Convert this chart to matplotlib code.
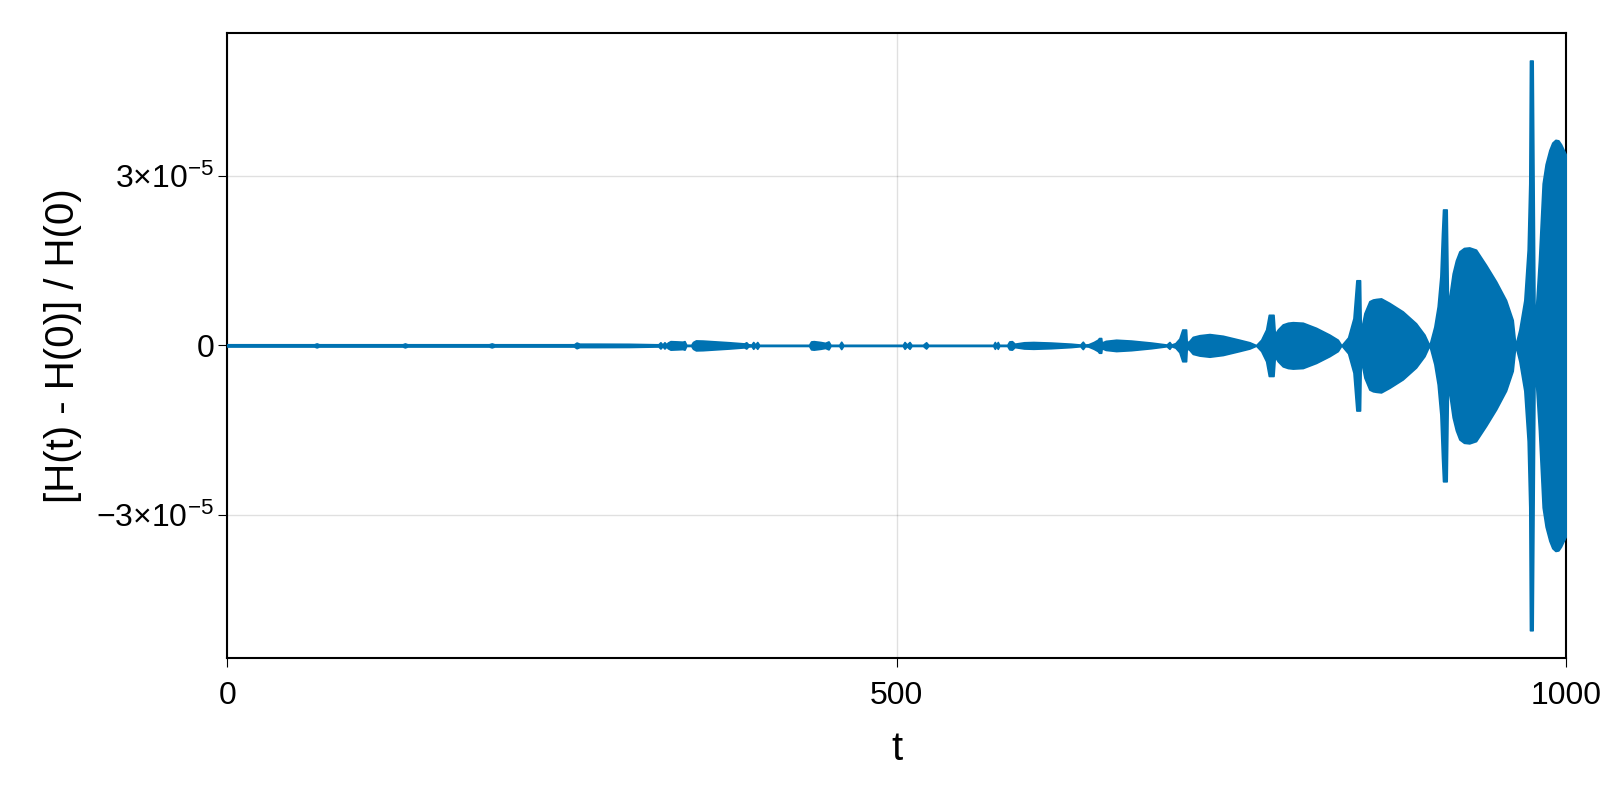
import numpy as np
import matplotlib
matplotlib.use('Agg')
import matplotlib.pyplot as plt

# Envelope of the relative energy error (units of 1e-5)
t_knots = [
    0, 65, 66.8, 68.5, 131, 132.7, 134.5, 195.5, 197.5, 199.5,
    259, 260.9, 263, 275, 300, 320,
    322, 323.5, 325, 326.5, 328,
    329, 331, 336, 340, 341.5, 342.8,
    346.5, 347.8, 350, 355, 365, 375, 386, 387.6, 389,
    391.5, 392.8, 394.3, 395.8, 397.2,
    434.5, 436, 438, 443, 446.5, 449, 450.5,
    457, 458.5, 460,
    504.5, 505.8, 507.5, 509.5, 511,
    519.5, 521.9, 523.5,
    572, 573.2, 574.3, 575.4, 576.5,
    582.5, 584, 586, 588, 595, 602, 615, 630, 637,
    638.9, 640.5,
    643, 647, 650, 651, 652.6, 653, 656, 663.8, 675, 690, 701.5,
    703.6, 705,
    708, 711, 713.2, 716, 716.5,
    718.5, 721, 726, 733.5, 743.5, 755.8, 763.4, 768.3,
    772.1, 775.8, 777.8, 781.3, 782.3,
    784.5, 788.2, 792, 795.7, 803.2, 813.1, 823.1, 829.3, 832,
    837, 841, 843.2, 845.9, 846.5,
    849.2, 852.9, 855.5, 857.9, 861.6, 867.8, 877.8, 887.7, 894, 897.7,
    901.4, 903.9, 905.9, 907.1, 907.9, 910.6, 911.6,
    915.1, 917.5, 920.1, 923.5, 927.5, 932.5, 940, 947.5, 954.9, 959.9, 961.9,
    964.9, 968.6, 971.1, 972.3, 972.8, 974.8, 976.3,
    979.5, 982.3, 984.5, 987.3, 989.5, 991.8, 994, 996, 998, 1000,
]
amp_knots = [
    0.02, 0.02, 0.035, 0.02, 0.02, 0.035, 0.02, 0.02, 0.035, 0.02,
    0.02, 0.05, 0.03, 0.03, 0.028, 0.02,
    0.02, 0.055, 0.015, 0.055, 0.02,
    0.05, 0.075, 0.07, 0.065, 0.075, 0.01,
    0.01, 0.06, 0.088, 0.085, 0.07, 0.055, 0.035, 0.055, 0.02,
    0.015, 0.06, 0.015, 0.06, 0.01,
    0.01, 0.07, 0.075, 0.06, 0.045, 0.07, 0.01,
    0.01, 0.065, 0.01,
    0.01, 0.06, 0.015, 0.06, 0.01,
    0.01, 0.055, 0.01,
    0.01, 0.06, 0.015, 0.06, 0.01,
    0.01, 0.07, 0.075, 0.03, 0.055, 0.06, 0.05, 0.03, 0.015,
    0.065, 0.015,
    0.02, 0.06, 0.10, 0.13, 0.13, 0.05, 0.08, 0.10, 0.085, 0.05, 0.015,
    0.06, 0.015,
    0.04, 0.12, 0.28, 0.28, 0.05,
    0.08, 0.15, 0.18, 0.20, 0.17, 0.10, 0.055, 0.005,
    0.10, 0.28, 0.54, 0.54, 0.20,
    0.28, 0.37, 0.40, 0.41, 0.40, 0.31, 0.19, 0.10, 0.0,
    0.14, 0.48, 1.15, 1.15, 0.25,
    0.57, 0.78, 0.81, 0.82, 0.83, 0.75, 0.60, 0.39, 0.19, 0.0,
    0.33, 0.69, 1.22, 1.98, 2.40, 2.40, 0.69,
    1.27, 1.50, 1.66, 1.72, 1.73, 1.69, 1.42, 1.13, 0.80, 0.45, 0.0,
    0.28, 0.80, 1.69, 2.86, 5.03, 5.03, 0.3,
    1.5, 2.86, 3.20, 3.45, 3.58, 3.63, 3.62, 3.55, 3.45, 3.35,
]
scale = 1e-5

x_ticks = [0, 500, 1000]
y_ticks = [-3e-5, 0, 3e-5]
y_tick_labels = [r'$-3{\times}10^{-5}$', '0', r'$3{\times}10^{-5}$']

plt.rcParams['font.family'] = ['Liberation Sans', 'DejaVu Sans']
plt.rcParams['mathtext.fontset'] = 'custom'
plt.rcParams['mathtext.rm'] = 'Liberation Sans'
plt.rcParams['mathtext.it'] = 'Liberation Sans:italic'
plt.rcParams['mathtext.bf'] = 'Liberation Sans:bold'

color = '#0072b2'

fig = plt.figure(figsize=(16, 8), dpi=100)
ax = fig.add_axes([0.142, 0.1775, 0.837, 0.7815])

t = np.array(t_knots)
amp = np.array(amp_knots) * scale
ax.fill_between(t, -amp, amp, color=color, edgecolor=color, linewidth=1.2, zorder=3)

ax.set_xlim(0, 1000)
ax.set_ylim(-5.52e-5, 5.52e-5)
ax.set_xticks(x_ticks)
ax.set_xticklabels([str(v) for v in x_ticks])
ax.set_yticks(y_ticks)
ax.set_yticklabels(y_tick_labels)

ax.grid(True, color='#000000', alpha=0.12, linewidth=1.0, zorder=0)
ax.set_axisbelow(True)
for s in ax.spines.values():
    s.set_linewidth(1.5)
ax.tick_params(direction='out', length=6.5, width=0.8, labelsize=23, pad=3)
ax.tick_params(axis='x', pad=10)

ax.set_xlabel('t', fontsize=29, labelpad=14)
ax.set_ylabel('[H(t) - H(0)] / H(0)', fontsize=29, labelpad=10)

plt.savefig('out.png', dpi=100)
plt.close()
